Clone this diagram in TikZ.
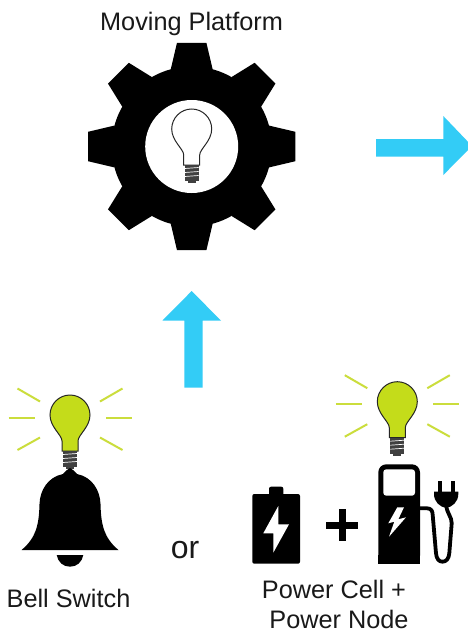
\documentclass[tikz,border=0pt]{standalone}
\usepackage{fontspec}
\setmainfont{Liberation Sans}
\definecolor{arrowblue}{HTML}{33CCF6}
\definecolor{bulbgreen}{HTML}{C4DC1A}
\definecolor{raygreen}{HTML}{CBDD3C}
\tikzset{
  x=1pt,y=-1pt,
  label text/.style={inner sep=0pt,anchor=base,align=center,text=black!90,font=\fontsize{25.3}{31}\selectfont},
  ray/.style={draw=raygreen,line width=2pt},
  blockarrow/.style={fill=arrowblue,draw=none},
  icon/.style={fill=black,draw=none},
  cutout/.style={fill=white,draw=none},
  pics/bulb/.style={code={
    \path[fill=#1,draw=black!85,line width=1pt]
      (-8,36) -- (-8,26) .. controls (-8,20) and (-20,12) .. (-20,0)
      .. controls (-20,-11) and (-11,-20) .. (0,-20)
      .. controls (11,-20) and (20,-11) .. (20,0)
      .. controls (20,12) and (8,20) .. (8,26) -- (8,36) -- cycle;
    \fill[black!75] (-7,36) rectangle (7,52);
    \foreach \yy in {39,43,47}{\draw[white,line width=0.7pt] (-7,\yy+0.5) -- (7,\yy-0.5);}
    \fill[black!75] (-4,52) rectangle (4,54);
  }},
  pics/rays/.style={code={
    \draw[ray] (-52.5,-26.5) -- (-30,-13.5);
    \draw[ray] (-61.5,2.5) -- (-35.5,2.5);
    \draw[ray] (-52.5,35) -- (-30,22.5);
    \draw[ray] (52.5,-26.5) -- (30,-13.5);
    \draw[ray] (61.5,2.5) -- (35.5,2.5);
    \draw[ray] (52.5,35) -- (30,22.5);
  }}
}
\begin{document}
\begin{tikzpicture}
\useasboundingbox[fill=white] (0,0) rectangle (468,632);
\clip (0,0) rectangle (468,632);
% gear
\begin{scope}[shift={(191.7,146.5)}]
  \fill[icon] (0,0) circle[radius=80];
  \foreach \a in {0,45,...,315}{
    \fill[icon,rotate=\a] (-21,-77) -- (-14.7,-103.7) -- (14.7,-103.7) -- (21,-77) -- cycle;
  }
  \fill[cutout] (0,0) circle[radius=46.5];
\end{scope}
\pic at (191.7,129) {bulb=white};
% up arrow
\fill[blockarrow] (191.7,291) -- (221,320.7) -- (202.5,320.7) -- (202.5,387.7) -- (184.3,387.7) -- (184.3,320.7) -- (162.3,320.7) -- cycle;
% right arrow
\fill[blockarrow] (376,139) -- (443.3,139) -- (443.3,116) -- (472,146) -- (443.3,175) -- (443.3,156.7) -- (376,156.7) -- cycle;
% left bulb and bell
\pic at (70,415) {bulb=bulbgreen};
\pic at (70,415) {rays};
\fill[icon] (70,468)
  .. controls (67,469) and (65,472) .. (63,474)
  .. controls (48,477) and (40,490) .. (39.5,504)
  .. controls (39,525) and (36,538) .. (21.5,550)
  -- (118.5,550)
  .. controls (104,538) and (101,525) .. (100.5,504)
  .. controls (100,490) and (92,477) .. (77,474)
  .. controls (75,472) and (73,469) .. (70,468) -- cycle;
\fill[icon] (56.7,555) -- (83.3,555) .. controls (82,562) and (77,566.7) .. (70,566.7) .. controls (63,566.7) and (58,562) .. (56.7,555) -- cycle;
% right bulb
\pic at (397.3,401.7) {bulb=bulbgreen};
\pic at (397.3,401.7) {rays};
% battery
\fill[icon,rounded corners=2pt] (252.3,494) rectangle (300,563.7);
\fill[icon,rounded corners=2pt] (269,486.7) rectangle (283.3,496);
\fill[cutout] (278.3,506) -- (263.3,533.3) -- (273.3,533.3) -- (273.3,552.7) -- (289,524.3) -- (278.3,524.3) -- cycle;
% plus
\fill[icon] (326,521.5) rectangle (357.5,528.5);
\fill[icon] (338.5,509.3) rectangle (345.5,540.7);
% charging station
\fill[icon,rounded corners=8pt] (378.3,563.7) -- (378.3,464.3) -- (420,464.3) -- (420,563.7) [sharp corners] -- cycle;
\fill[icon] (378.3,555) rectangle (420,563.7);
\fill[cutout,rounded corners=3pt] (383.3,469.3) rectangle (415,495.7);
\fill[cutout] (397.3,507.3) -- (388.3,523.3) -- (394.3,521.7) -- (389,536.7) -- (406,517.3) -- (398.3,519.3) -- (404,507.3) -- cycle;
\draw[black,line width=3.8pt,line join=round] (420,508.3) -- (427,508.3)
  .. controls (431,508.3) and (432.7,511) .. (432.7,515)
  -- (436,553.3) .. controls (436.5,559) and (439,561.7) .. (442.5,561.7)
  .. controls (446,561.7) and (448.8,559) .. (449.3,553.3)
  -- (451.7,523.3) .. controls (452,517) and (446.5,513) .. (446.3,505);
\fill[icon] (434,491.7) -- (458.3,491.7) -- (458.3,494) .. controls (458.3,502) and (452,507) .. (446.3,508) .. controls (440,507) and (434,502) .. (434,494) -- cycle;
\fill[icon] (438.3,480.7) rectangle (442.3,492.5);
\fill[icon] (450.7,480.7) rectangle (454.7,492.5);
% labels
\node[label text] (title) at (191.5,30) {Moving Platform};
\node[label text] (bell) at (68.5,607) {Bell Switch};
\node[label text,font=\fontsize{32}{34}\selectfont] (or) at (185,558.3) {or};
\node[label text] (cell) at (334,598.3) {Power Cell +};
\node[label text] (pnode) at (339,628) {Power Node};
\end{tikzpicture}
\end{document}
